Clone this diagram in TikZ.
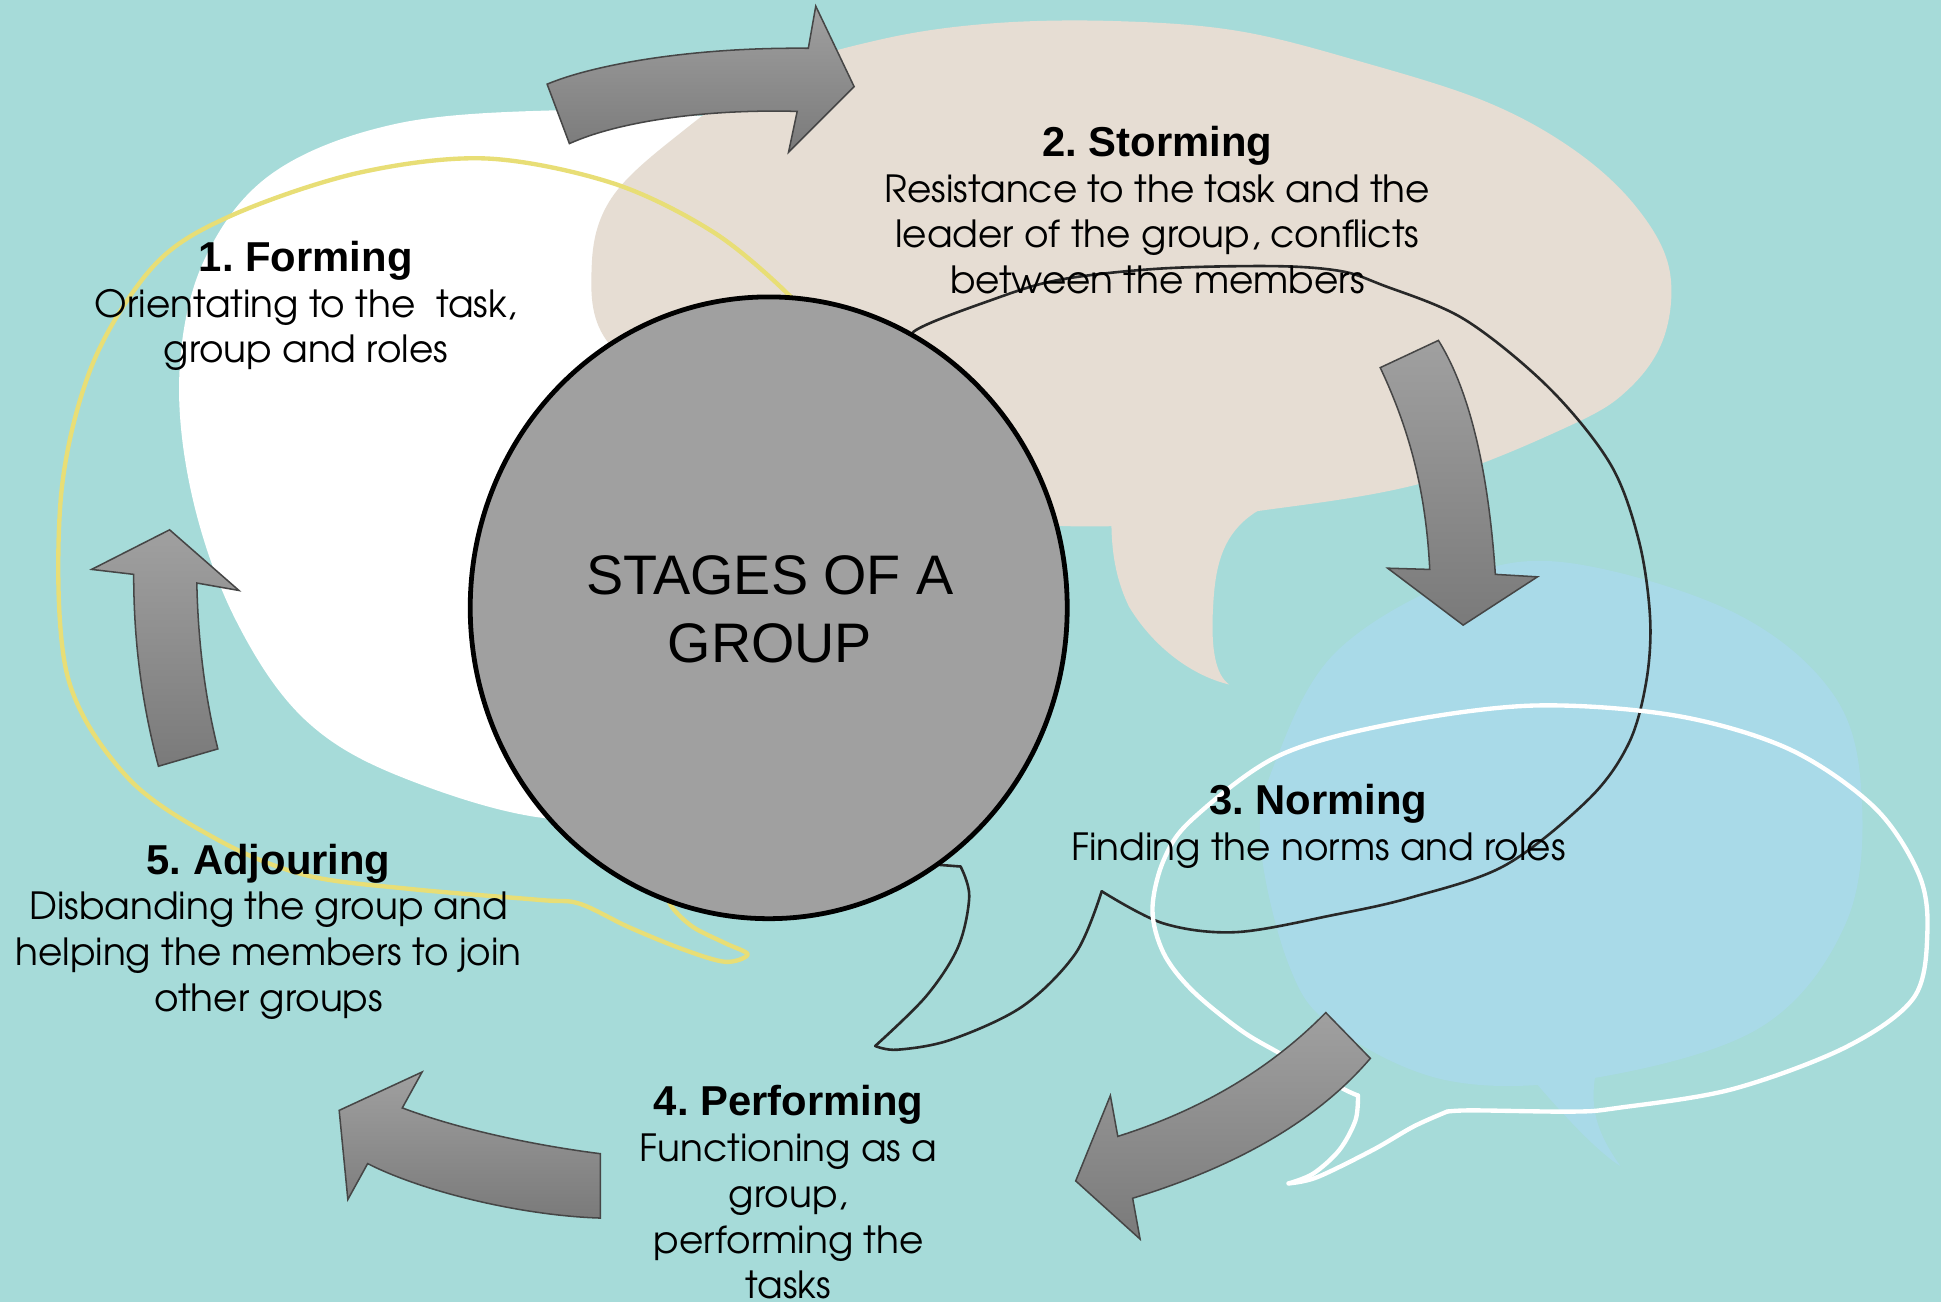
\documentclass[tikz,border=0pt]{standalone}
\usepackage{fontspec}
\usetikzlibrary{shapes.geometric}
\setmainfont{Liberation Sans}
\newfontfamily\gothic{texgyreadventor}[Extension=.otf,UprightFont=*-regular,BoldFont=*-bold]
\frenchspacing
\definecolor{bgteal}{RGB}{166,219,217}
\definecolor{sand}{RGB}{230,221,211}
\definecolor{skyblob}{RGB}{169,218,232}
\definecolor{lemon}{RGB}{232,222,118}
\definecolor{inkline}{RGB}{40,40,40}
\definecolor{hubgray}{RGB}{160,160,160}
\definecolor{arrowtop}{RGB}{160,160,160}
\definecolor{arrowbot}{RGB}{122,122,122}
\definecolor{arrowedge}{RGB}{70,70,70}
\newcommand\stagehead[1]{{\rmfamily\bfseries\fontsize{9.6}{10.53}\selectfont #1}}
\begin{document}
\begin{tikzpicture}[x=0.01cm,y=-0.01cm,
  blockarrow/.style={top color=arrowtop,bottom color=arrowbot,draw=arrowedge,line width=0.35pt,line join=miter},
  stage/.style={align=center,inner sep=0pt,anchor=north,text=black,
    font=\gothic\fontsize{8.6}{10.53}\selectfont},
  bubbleline/.style={line cap=round,line join=round}]
\useasboundingbox (0,0) rectangle (1568,1052);
\fill[bgteal] (0,0) rectangle (1568,1052);

% white speech blob behind "Forming"
\fill[white] plot[smooth cycle,tension=0.6] coordinates {(453,89) (560,93) (640,115) (700,200) (700,400) (560,640) (453,662) (330,630) (247,582) (190,500) (155,400) (145,300) (165,210) (220,140) (320,100)};

% sand speech blob behind "Storming"
\fill[sand] plot[smooth cycle,tension=0.6] coordinates {(478,215) (494,160) (549,108) (620,60) (711,32) (800,19) (900,17) (1000,25) (1100,50) (1200,82) (1270,120) (1320,165) (1348,215) (1345,270) (1317,313) (1268,344) (1150,390) (1015,413) (900,425) (800,420) (700,400) (560,330) (490,275)};
\fill[sand] (1040,402) .. controls (990,418) and (982,450) .. (980,490)
  .. controls (978,525) and (982,545) .. (993,553)
  .. controls (960,545) and (930,520) .. (912,490)
  .. controls (900,465) and (897,440) .. (898,410) -- cycle;

% light blue speech blob behind "Norming"
\fill[skyblob] plot[smooth cycle,tension=0.6] coordinates {(1032,611) (1078,528) (1170,471) (1261,454) (1399,494) (1481,561) (1504,645) (1491,746) (1422,830) (1287,871) (1170,873) (1078,830) (1041,779) (1018,678)};
\fill[skyblob] (1235,868) .. controls (1262,900) and (1290,930) .. (1309,942)
  .. controls (1290,915) and (1283,895) .. (1290,862) -- cycle;

% yellow outline bubble
\draw[lemon,line width=1pt,bubbleline] plot[smooth,tension=0.55] coordinates {(650,262) (639,240) (577,188) (495,148) (392,128) (288,140) (185,175) (124,215) (74,296) (49,404) (54,544) (103,628) (177,679) (247,707) (330,718) (436,727) (468,730) (508,749) (552,767) (586,777) (604,771) (586,762) (560,749) (543,733) (537,718)};

% dark outline bubble
\draw[inkline,line width=0.6pt,bubbleline] plot[smooth,tension=0.55] coordinates {(748,285) (738,268) (802,242) (856,226) (937,217) (1030,215) (1083,219) (1116,230) (1183,258) (1251,313) (1301,375) (1324,437) (1333,499) (1330,550) (1316,600) (1284,645) (1216,699) (1140,725) (1078,739) (999,753) (940,746) (890,720)};
\draw[inkline,line width=0.6pt,bubbleline] plot[smooth,tension=0.55] coordinates {(890,720) (869,770) (826,813) (768,840) (725,848) (707,845)};
\draw[inkline,line width=0.6pt,bubbleline] plot[smooth,tension=0.55] coordinates {(707,845) (748,805) (774,765) (783,724) (776,700)} -- (750,698);

% white outline bubble
\draw[white,line width=1pt,bubbleline] plot[smooth,tension=0.55] coordinates {(1097,885) (1082,878) (1034,851) (1002,832) (963,800) (940,770) (931,735) (940,695) (963,662) (1032,611) (1123,585) (1238,570) (1353,578) (1445,605) (1514,652) (1550,706) (1557,753) (1546,806) (1491,846) (1399,880) (1307,895) (1271,898) (1190,897) (1169,898)};
\draw[white,line width=1pt,bubbleline] plot[smooth,tension=0.55] coordinates {(1097,885) (1095,905) (1082,929) (1061,948) (1041,956)};
\draw[white,line width=1pt,bubbleline] plot[smooth,tension=0.55] coordinates {(1041,956) (1064,951) (1109,929) (1142,910) (1169,898)};

% central hub
\node[draw=black,line width=1.1pt,fill=hubgray,ellipse,inner sep=0pt,
  minimum width=4.82cm,minimum height=5.02cm] (hub) at (621,491) {};
\node[align=center,inner sep=0pt,font=\fontsize{12.8}{15.65}\selectfont] (title) at (622,492) {STAGES OF A\\GROUP};

% curved arrows between the stages
\path[blockarrow] (442,68) .. controls (480,52) and (560,38) .. (653,39) -- (659,5) -- (690,70) -- (637,123) -- (644,90) .. controls (570,88) and (500,98) .. (460,116) -- cycle;
\path[blockarrow] (1115,297) .. controls (1140,350) and (1152,400) .. (1155,460) -- (1121,459) -- (1182,505) -- (1242,466) -- (1208,464) .. controls (1203,390) and (1190,320) .. (1162,275) -- cycle;
\path[blockarrow] (1071,818) .. controls (1020,870) and (960,900) .. (903,918) -- (897,885) -- (869,954) -- (921,1001) -- (915,968) .. controls (990,945) and (1060,910) .. (1107,855) -- cycle;
\path[blockarrow] (485,932) .. controls (430,925) and (370,912) .. (325,895) -- (341,866) -- (274,897) -- (281,969) -- (297,940) .. controls (340,962) and (420,982) .. (485,984) -- cycle;
\path[blockarrow] (128,619) .. controls (115,570) and (108,520) .. (108,464) -- (74,460) -- (137,428) -- (193,477) -- (159,471) .. controls (160,520) and (166,565) .. (176,605) -- cycle;

% stage labels
\node[stage] (forming) at (247,194) {\stagehead{1. Forming}\\Orientating to the~ task,\\group and roles};
\node[stage] (storming) at (935,101) {\stagehead{2. Storming}\\Resistance to the task and the\\leader of the group, conflicts\\between the members};
\node[stage] (norming) at (1065,633) {\stagehead{3. Norming}\\Finding the norms and roles};
\node[stage] (performing) at (637,876) {\stagehead{4. Performing}\\Functioning as a\\group,\\performing the\\tasks};
\node[stage] (adjourning) at (217,681) {\stagehead{5. Adjouring}\\Disbanding the group and\\helping the members to join\\other groups};
\end{tikzpicture}
\end{document}
